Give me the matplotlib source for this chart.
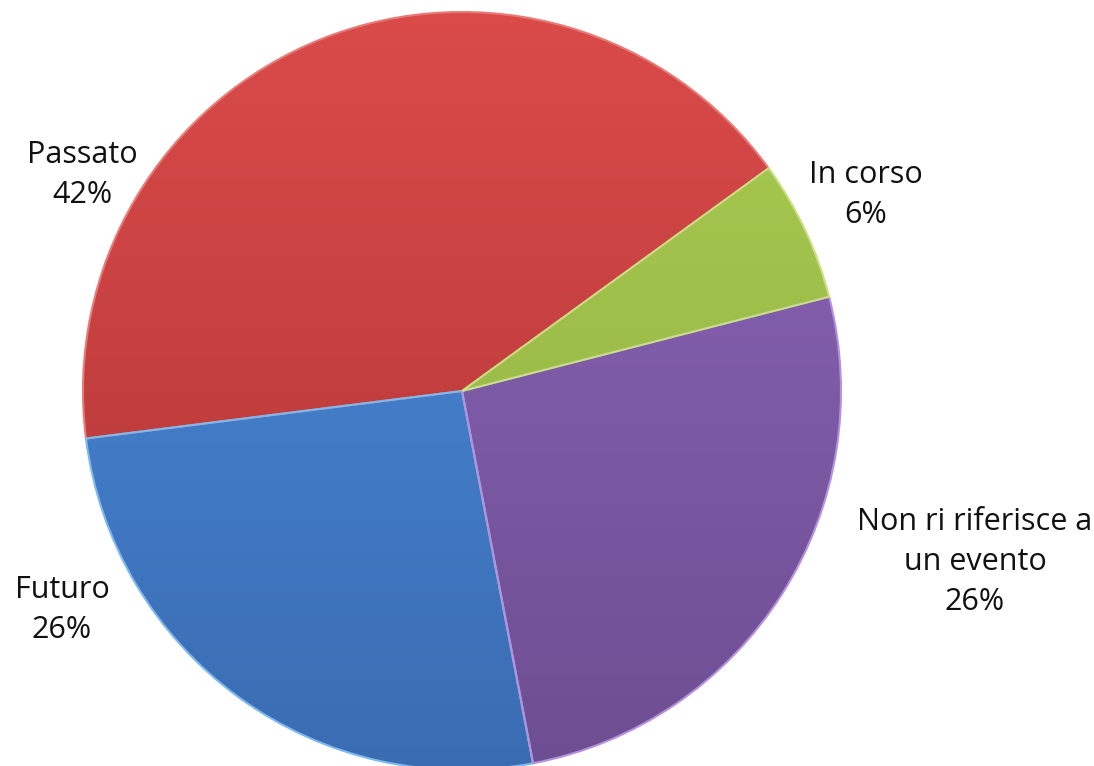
import matplotlib
matplotlib.use("Agg")
import matplotlib.pyplot as plt
import numpy as np
from matplotlib.colors import LinearSegmentedColormap

categories = ["Passato", "Futuro", "Non ri riferisce a\nun evento", "In corso"]
values = [42, 26, 26, 6]
top_colors = ["#DA4B4A", "#4C8EDE", "#8C66BA", "#A8CB52"]
bottom_colors = ["#AC3333", "#3A6CB2", "#6E4E92", "#90B040"]
edge_colors = ["#E87A78", "#7DB8F0", "#B592DC", "#C8E080"]
label_pos = [(82, 175), (62, 610), (975, 562), (866, 195)]

W, H = 1094, 766
fig = plt.figure(figsize=(W / 100, H / 100), dpi=100)
ax = fig.add_axes([0, 0, 1, 1])

cx, cy, r = 462, 391, 379
# axes are y-down, so screen angle +37 (ccw) = data angle -37 going clockwise
wedges, _ = ax.pie(values, startangle=-36, counterclock=False, radius=r,
                   center=(cx, cy), frame=True,
                   wedgeprops=dict(linewidth=1.5))
ax.set_xlim(0, W)
ax.set_ylim(H, 0)
ax.set_aspect("equal")
ax.axis("off")

for w, tc, bc, ec in zip(wedges, top_colors, bottom_colors, edge_colors):
    w.set_facecolor("none")
    w.set_edgecolor(ec)
    w.set_zorder(3)
    cmap = LinearSegmentedColormap.from_list("g", [tc, bc])
    grad = np.linspace(0, 1, 256).reshape(-1, 1)
    im = ax.imshow(grad, cmap=cmap, extent=(cx - r, cx + r, cy + r, cy - r),
                   aspect="auto", zorder=2)
    im.set_clip_path(w)

ax.set_xlim(0, W)
ax.set_ylim(H, 0)

for (x, y), cat, v in zip(label_pos, categories, values):
    ax.text(x, y, f"{cat}\n{v}%", ha="center", va="center", fontsize=22,
            family="Open Sans", color="#111111", linespacing=1.45, zorder=5)

fig.savefig("out.png", dpi=100)
